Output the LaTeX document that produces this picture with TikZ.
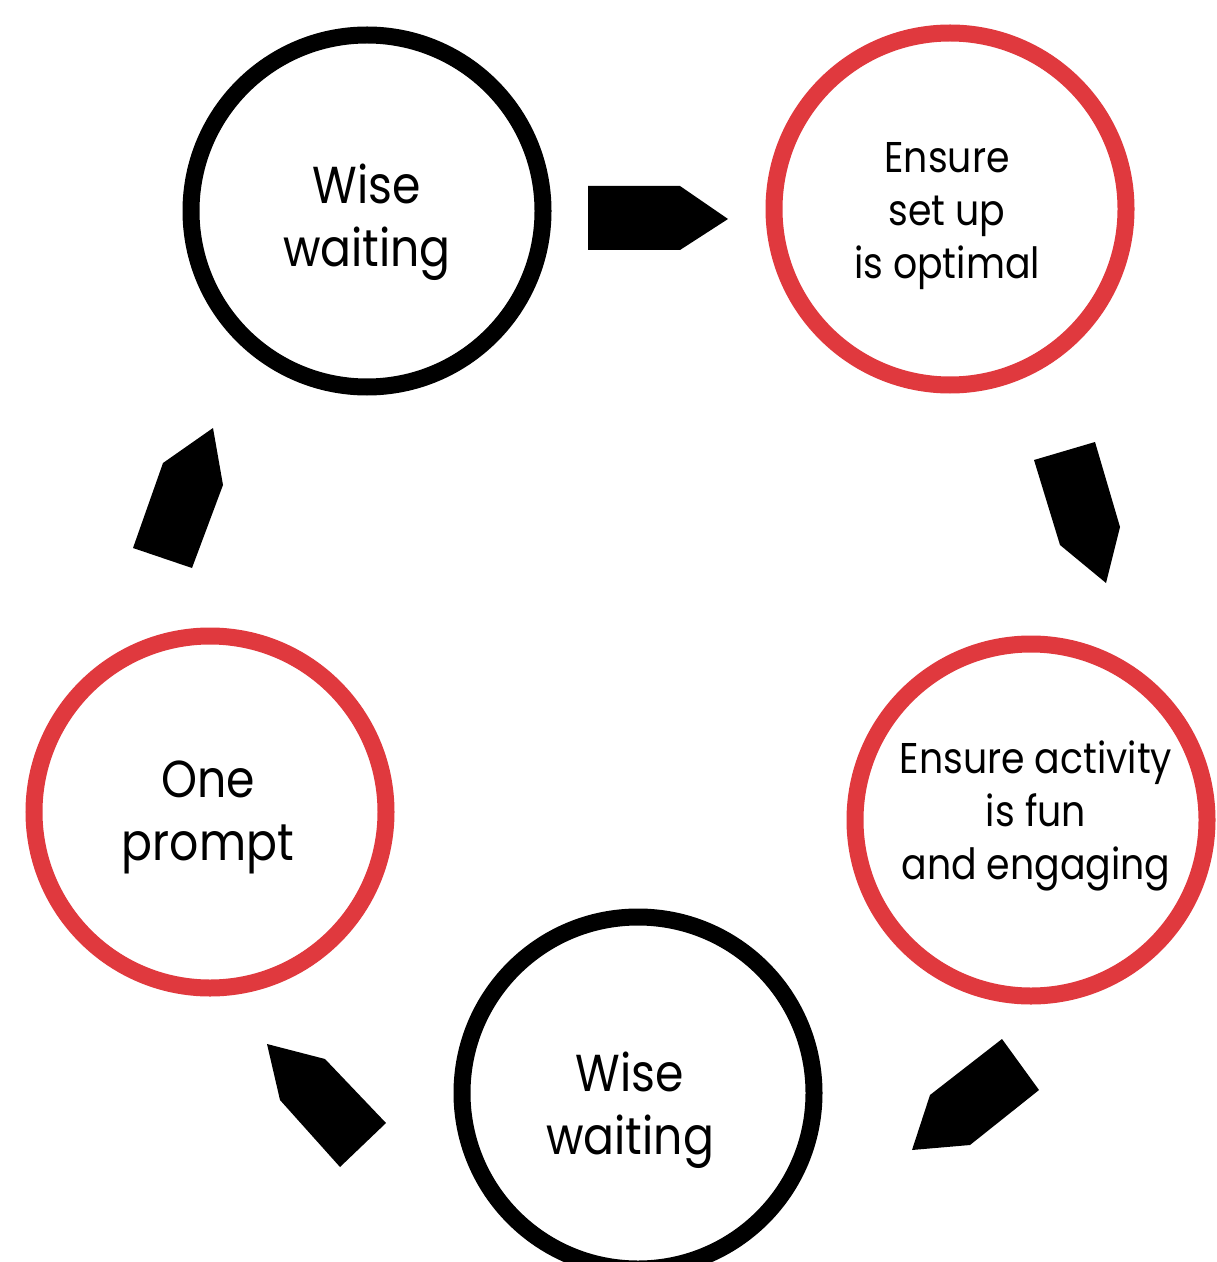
\documentclass[tikz,border=0pt]{standalone}
\usepackage{fontspec}
\setmainfont{Poppins}[FakeStretch=0.88]
\definecolor{ringred}{HTML}{E0393E}
\begin{document}
\begin{tikzpicture}[x=0.5pt,y=-0.5pt,
  ring/.style={circle, draw, line width=8.5pt, minimum size=176pt, inner sep=0pt},
  redring/.style={ring, draw=ringred},
  blackring/.style={ring, draw=black},
  label/.style={align=center, inner sep=0pt},
  big/.style={label, font=\fontsize{26}{31.5}\selectfont},
  small/.style={label, font=\fontsize{21.5}{26.5}\selectfont},
  blockarrow/.style={fill=black, draw=none}]
\useasboundingbox[fill=white] (0,0) rectangle (1216,1262);
\node[blackring] (ww1) at (367,211) {};
\node[redring] (setup) at (950,209) {};
\node[redring] (fun) at (1031,820) {};
\node[blackring] (ww2) at (638,1093) {};
\node[redring] (prompt) at (210,812) {};
\node[big] (t1) at (367,222) {Wise\\waiting};
\node[small] (t2) at (947,216) {Ensure\\set up\\is optimal};
\node[small] (t3) at (1036,816) {Ensure activity\\is fun\\and engaging};
\node[big] (t4) at (630,1110) {Wise\\waiting};
\node[big] (t5) at (208,817) {One\\prompt};
% block arrows
\fill[blockarrow] (588,186) -- (680,186) -- (728,219) -- (680,250) -- (588,250) -- cycle;
\fill[blockarrow] (1034,460) -- (1095,442) -- (1120,527) -- (1106,583) -- (1060,545) -- cycle;
\fill[blockarrow] (1002,1039) -- (1039,1090) -- (970,1145) -- (912,1150) -- (930,1095) -- cycle;
\fill[blockarrow] (267,1044) -- (325,1059) -- (386,1123) -- (340,1167) -- (280,1100) -- cycle;
\fill[blockarrow] (213,428) -- (223,485) -- (192,568) -- (133,548) -- (163,463) -- cycle;
\end{tikzpicture}
\end{document}
